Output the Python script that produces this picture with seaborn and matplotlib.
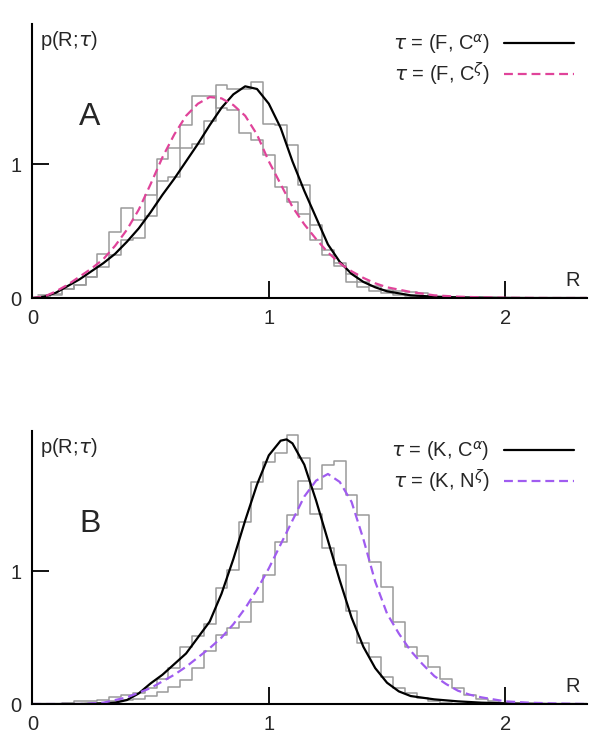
import numpy as np
import pandas as pd
import matplotlib
matplotlib.use("Agg")
import matplotlib.pyplot as plt
import seaborn as sns

# ---------------- data ----------------
# Panel A : fitted curves
A_curve_R = [0.0, 0.05, 0.1, 0.15, 0.2, 0.25, 0.3, 0.35, 0.4, 0.45, 0.5, 0.55, 0.6, 0.65, 0.7,
             0.75, 0.8, 0.85, 0.9, 0.95, 1.0, 1.05, 1.1, 1.15, 1.2, 1.25, 1.3, 1.35, 1.4, 1.45,
             1.5, 1.6, 1.7, 1.8, 1.9, 2.0, 2.1, 2.2, 2.345]
A_alpha = [0.0, 0.01, 0.04, 0.09, 0.14, 0.2, 0.26, 0.33, 0.42, 0.52, 0.64, 0.77, 0.89, 1.02, 1.15,
           1.29, 1.42, 1.52, 1.58, 1.56, 1.45, 1.27, 1.02, 0.8, 0.6, 0.4, 0.27, 0.18, 0.12, 0.08,
           0.05, 0.02, 0.01, 0.005, 0.003, 0.001, 0.0, 0.0, 0.0]
A_zeta = [0.0, 0.01, 0.05, 0.1, 0.16, 0.22, 0.29, 0.39, 0.51, 0.66, 0.85, 1.05, 1.22, 1.36, 1.45,
          1.5, 1.49, 1.44, 1.36, 1.22, 1.02, 0.85, 0.68, 0.55, 0.44, 0.34, 0.26, 0.2, 0.15, 0.11,
          0.08, 0.045, 0.02, 0.01, 0.005, 0.002, 0.001, 0.0, 0.0]

# Panel A : histograms (bin centres, width 0.05)
A_hist_R = [0.05, 0.1, 0.15, 0.2, 0.25, 0.3, 0.35, 0.4, 0.45, 0.5, 0.55, 0.6, 0.65, 0.7, 0.75,
            0.8, 0.85, 0.9, 0.95, 1.0, 1.05, 1.1, 1.15, 1.2, 1.25, 1.3, 1.35, 1.4, 1.45, 1.5,
            1.55, 1.6, 1.65, 1.7]
A_hist_zeta = [0.02, 0.02, 0.07, 0.1, 0.16, 0.33, 0.49, 0.67, 0.58, 0.77, 1.04, 1.12, 1.29, 1.51, 1.51,
               1.42, 1.4, 1.23, 1.18, 1.07, 0.83, 0.72, 0.63, 0.43, 0.36, 0.26, 0.18, 0.12, 0.09, 0.06,
               0.05, 0.045, 0.04, 0.0]
A_hist_alpha = [0.01, 0.03, 0.07, 0.1, 0.16, 0.23, 0.32, 0.43, 0.45, 0.61, 0.87, 0.9, 1.12, 1.15, 1.32,
                1.59, 1.56, 1.56, 1.61, 1.3, 1.29, 1.14, 0.84, 0.545, 0.32, 0.24, 0.12, 0.08, 0.05, 0.035,
                0.02, 0.015, 0.01, 0.005]

# Panel B : fitted curves
B_alpha_R = [0.0, 0.2, 0.3, 0.35, 0.4, 0.45, 0.5, 0.55, 0.6, 0.65, 0.7, 0.75, 0.8, 0.85, 0.9, 0.95,
             1.0, 1.05, 1.075, 1.1, 1.15, 1.2, 1.25, 1.3, 1.35, 1.4, 1.45, 1.5, 1.55, 1.6, 1.7,
             1.8, 1.9, 2.0, 2.2, 2.345]
B_alpha = [0.0, 0.0, 0.005, 0.01, 0.03, 0.08, 0.155, 0.22, 0.3, 0.38, 0.5, 0.62, 0.83, 1.09, 1.38, 1.65,
           1.87, 1.98, 1.99, 1.96, 1.8, 1.53, 1.23, 0.93, 0.65, 0.43, 0.27, 0.16, 0.095, 0.06, 0.035,
           0.02, 0.01, 0.005, 0.0, 0.0]
B_zeta_R = [0.0, 0.2, 0.3, 0.4, 0.5, 0.6, 0.65, 0.7, 0.75, 0.8, 0.85, 0.9, 0.95, 1.0, 1.05, 1.1,
            1.15, 1.2, 1.25, 1.3, 1.35, 1.4, 1.45, 1.5, 1.55, 1.6, 1.65, 1.7, 1.75, 1.8, 1.85,
            1.9, 2.0, 2.1, 2.2, 2.345]
B_zeta = [0.0, 0.0, 0.01, 0.05, 0.12, 0.22, 0.28, 0.35, 0.42, 0.5, 0.6, 0.72, 0.86, 1.02, 1.2, 1.38,
          1.56, 1.68, 1.73, 1.67, 1.52, 1.24, 0.92, 0.68, 0.53, 0.4, 0.3, 0.21, 0.15, 0.1, 0.07,
          0.05, 0.02, 0.01, 0.005, 0.0]

# Panel B : histograms
B_hist_R = [0.15, 0.2, 0.25, 0.3, 0.35, 0.4, 0.45, 0.5, 0.55, 0.6, 0.65, 0.7, 0.75, 0.8, 0.85, 0.9,
            0.95, 1.0, 1.05, 1.1, 1.15, 1.2, 1.25, 1.3, 1.35, 1.4, 1.45, 1.5, 1.55, 1.6, 1.65,
            1.7, 1.75, 1.8, 1.85, 1.9, 1.95, 2.0]
B_hist_alpha = [0.01, 0.02, 0.025, 0.03, 0.05, 0.07, 0.08, 0.12, 0.19, 0.27, 0.43, 0.51, 0.6, 0.87, 1.01, 1.37,
                1.67, 1.82, 1.885, 2.02, 1.85, 1.43, 1.17, 1.045, 0.7, 0.456, 0.356, 0.2, 0.12, 0.08, 0.045,
                0.02, 0.01, 0.0, 0.0, 0.0, 0.0, 0.0]
B_hist_zeta = [0.0, 0.0, 0.0, 0.01, 0.02, 0.03, 0.04, 0.06, 0.09, 0.13, 0.18, 0.27, 0.4, 0.52, 0.57, 0.62,
               0.77, 0.97, 1.22, 1.42, 1.68, 1.62, 1.8, 1.83, 1.57, 1.42, 1.07, 0.88, 0.62, 0.43, 0.36,
               0.28, 0.19, 0.12, 0.07, 0.04, 0.02, 0.01]

BIN_W = 0.05
labels_A = [r"$\tau$ = (F, C$^{\alpha}$)", r"$\tau$ = (F, C$^{\zeta}$)"]
labels_B = [r"$\tau$ = (K, C$^{\alpha}$)", r"$\tau$ = (K, N$^{\zeta}$)"]
PINK = "#E0449A"
PURPLE = "#A05CF0"
GRAY = "#9a9a9a"

# ---------------- style ----------------
sns.set_theme(style="white")
plt.rcParams["font.family"] = ["Liberation Sans", "DejaVu Sans"]
plt.rcParams["mathtext.fontset"] = "dejavusans"

fig = plt.figure(figsize=(6.0, 7.48), dpi=100)
axA = fig.add_axes([0.054, 0.6016, 0.924, 0.3663])
axB = fig.add_axes([0.054, 0.0588, 0.924, 0.365])


def hist(ax, centres, vals):
    c = [float(v) for v in centres]
    edges = [v - BIN_W / 2 for v in c] + [c[-1] + BIN_W / 2]
    df = pd.DataFrame({"R": c, "w": [float(v) for v in vals]})
    sns.histplot(data=df, x="R", weights="w", bins=edges, stat="count", element="step",
                 fill=False, color=GRAY, linewidth=1.1, ax=ax)


def panel(ax, hR, h1, h2, cR1, c1, cR2, c2, col2, labels, letter, ymax):
    hist(ax, hR, h1)
    hist(ax, hR, h2)
    sns.lineplot(x=cR1, y=c1, color="black", linewidth=1.6, ax=ax, label=labels[0])
    sns.lineplot(x=cR2, y=c2, color=col2, linewidth=1.6, ax=ax, label=labels[1],
                 linestyle=(0, (4, 2.2)))
    ax.set_xlim(0, 2.345)
    ax.set_ylim(0, ymax)
    ax.set_xticks([0, 1, 2])
    ax.set_xticklabels(["0", "1", "2"])
    ax.set_yticks([0, 1])
    ax.set_yticklabels(["0", "1"])
    ax.tick_params(direction="in", length=12, width=1.3, color="black",
                   labelsize=14.5, pad=8, bottom=True, left=True)
    for s in ["top", "right"]:
        ax.spines[s].set_visible(False)
    for s in ["left", "bottom"]:
        ax.spines[s].set_color("black")
        ax.spines[s].set_linewidth(1.5)
    ax.set_xlabel("")
    ax.set_ylabel("")
    ax.text(0.032, ymax * 0.94, r"p(R;$\tau$)", fontsize=14.5, ha="left", va="center")
    ax.text(2.285, 0.13, "R", fontsize=14.5, ha="center", va="center")
    ax.text(0.243, 1.35, letter, fontsize=23, ha="center", va="center")
    ax.legend(loc="upper right", bbox_to_anchor=(0.992, 1.0), frameon=False,
              markerfirst=False, fontsize=14.5, handlelength=3.5, handletextpad=0.7,
              labelspacing=0.22, borderaxespad=0.0)


panel(axA, A_hist_R, A_hist_zeta, A_hist_alpha, A_curve_R, A_alpha, A_curve_R, A_zeta,
      PINK, labels_A, "A", 2.045)
panel(axB, B_hist_R, B_hist_alpha, B_hist_zeta, B_alpha_R, B_alpha, B_zeta_R, B_zeta,
      PURPLE, labels_B, "B", 2.053)

fig.savefig("out.png", dpi=100)
